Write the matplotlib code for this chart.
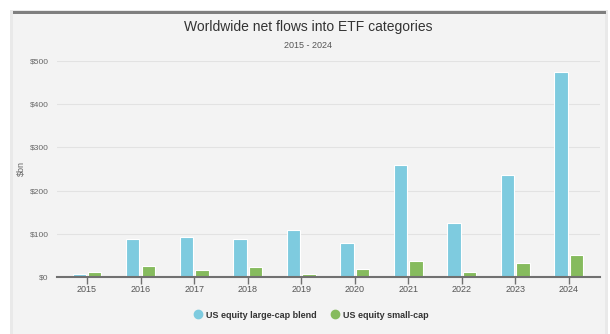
import matplotlib
matplotlib.use("Agg")
import matplotlib.pyplot as plt
import numpy as np
from matplotlib.patches import Rectangle
from matplotlib.lines import Line2D

years = ["2015", "2016", "2017", "2018", "2019", "2020", "2021", "2022", "2023", "2024"]
large_cap = [7, 88, 93, 88, 108, 78, 259, 124, 236, 475]
small_cap = [11, 25, 17, 23, 6, 18, 38, 12, 32, 52]
series_names = ["US equity large-cap blend", "US equity small-cap"]
yticks = [0, 100, 200, 300, 400, 500]
ytick_labels = ["$0", "$100", "$200", "$300", "$400", "$500"]

plt.rcParams['font.family'] = ['Liberation Sans', 'DejaVu Sans']

W, H = 610, 334
fig = plt.figure(figsize=(W / 100, H / 100), dpi=100)
fig.patch.set_facecolor("white")

def px(x0, y0, w, h):
    return (x0 / W, 1 - (y0 + h) / H, w / W, h / H)

# panel background
fig.patches.append(Rectangle((10 / W, 0), 598 / W, 1 - 10 / H, transform=fig.transFigure,
                             facecolor="#e9e9e9", edgecolor="none", zorder=-3))
fig.patches.append(Rectangle((13 / W, 0), 592 / W, 1 - 13 / H, transform=fig.transFigure,
                             facecolor="#f3f3f3", edgecolor="none", zorder=-2))
fig.patches.append(Rectangle((13 / W, 1 - 14 / H), 593 / W, 3 / H, transform=fig.transFigure,
                             facecolor="#7f7f7f", edgecolor="none", zorder=-1))

ax = fig.add_axes(px(57, 61, 543, 216))
ax.set_facecolor("none")
x = np.arange(len(years))
off = 0.145
bw = 0.25
ax.bar(x - off, large_cap, width=bw, color="#7ecbdf", edgecolor="white", linewidth=0.8, zorder=3,
       label=series_names[0])
ax.bar(x + off, small_cap, width=bw, color="#86bb5e", edgecolor="white", linewidth=0.8, zorder=3,
       label=series_names[1])

ax.set_xlim(-0.56, 9.58)
ax.set_ylim(0, 500)
ax.set_yticks(yticks)
ax.set_yticklabels(ytick_labels)
ax.set_xticks(x)
ax.set_xticklabels(years)
ax.grid(axis="y", color="#e2e2e2", linewidth=0.8, zorder=0)
for s in ["top", "right", "left"]:
    ax.spines[s].set_visible(False)
ax.spines["bottom"].set_color("#707070")
ax.spines["bottom"].set_linewidth(1.5)
ax.spines["bottom"].set_zorder(4)
ax.tick_params(axis="y", length=0, labelsize=6, labelcolor="#666666", pad=6)
ax.tick_params(axis="x", length=5, width=1, color="#707070", labelsize=6.5, labelcolor="#555555", pad=1)
ax.set_ylabel("$bn", fontsize=6.5, color="#666666")
ax.yaxis.set_label_coords((26 - 57) / 543, 0.5)

fig.text(308 / W, 1 - 27 / H, "Worldwide net flows into ETF categories", ha="center", va="center",
         fontsize=10, color="#333333")
fig.text(308 / W, 1 - 45 / H, "2015 - 2024", ha="center", va="center", fontsize=6.5, color="#555555")

handles = [Line2D([], [], marker="o", linestyle="none", markersize=6, color="#7ecbdf"),
           Line2D([], [], marker="o", linestyle="none", markersize=6, color="#86bb5e")]
leg = fig.legend(handles, series_names, loc="center", bbox_to_anchor=(311 / W, 1 - 315 / H),
                 ncol=2, frameon=False, handletextpad=0.4, columnspacing=1.6, handlelength=1.0,
                 prop={"size": 6.5, "weight": "bold"})
for t in leg.get_texts():
    t.set_color("#333333")

fig.savefig("out.png", dpi=100, facecolor=fig.get_facecolor())
